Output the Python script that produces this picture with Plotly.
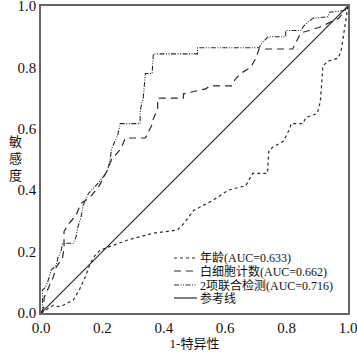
import plotly.graph_objects as go

# ---- data ----
age_fpr = [0, 0.04, 0.062, 0.105, 0.127, 0.144, 0.16, 0.176, 0.193, 0.28, 0.366, 0.444, 0.464, 0.497,
           0.56, 0.61, 0.667, 0.69, 0.738, 0.742, 0.755, 0.79, 0.81, 0.815, 0.853, 0.863, 0.9, 0.91,
           0.915, 0.918, 0.935, 0.967, 0.977, 0.99, 1.0]
age_tpr = [0, 0.025, 0.02, 0.042, 0.08, 0.117, 0.16, 0.188, 0.205, 0.237, 0.26, 0.27, 0.29, 0.334,
           0.367, 0.40, 0.415, 0.455, 0.455, 0.53, 0.54, 0.56, 0.60, 0.617, 0.617, 0.637, 0.65, 0.69,
           0.756, 0.805, 0.82, 0.83, 0.85, 0.93, 1.0]

wbc_fpr = [0, 0.01, 0.01, 0.026, 0.04, 0.05, 0.07, 0.075, 0.075, 0.09, 0.114, 0.13, 0.16, 0.19,
           0.215, 0.23, 0.26, 0.275, 0.34, 0.36, 0.365, 0.38, 0.38, 0.464, 0.464, 0.536, 0.55, 0.62,
           0.634, 0.65, 0.683, 0.70, 0.71, 0.82, 0.83, 0.846, 0.905, 0.935, 0.97, 1.0]
wbc_tpr = [0, 0.02, 0.05, 0.085, 0.117, 0.15, 0.18, 0.21, 0.266, 0.29, 0.318, 0.357, 0.377, 0.415,
           0.464, 0.50, 0.535, 0.57, 0.57, 0.61, 0.63, 0.665, 0.70, 0.70, 0.714, 0.73, 0.74, 0.74,
           0.763, 0.78, 0.80, 0.83, 0.86, 0.86, 0.88, 0.912, 0.93, 0.945, 0.96, 1.0]

comb_fpr = [0, 0.005, 0.005, 0.015, 0.026, 0.033, 0.05, 0.055, 0.065, 0.07, 0.105, 0.114, 0.12,
            0.13, 0.137, 0.15, 0.155, 0.183, 0.216, 0.225, 0.23, 0.25, 0.258, 0.323, 0.323, 0.333,
            0.34, 0.362, 0.366, 0.51, 0.51, 0.71, 0.72, 0.74, 0.797, 0.797, 0.846, 0.86, 0.886,
            0.935, 0.94, 0.985, 1.0]
comb_tpr = [0, 0, 0.075, 0.084, 0.114, 0.14, 0.155, 0.18, 0.2, 0.227, 0.227, 0.247, 0.28, 0.31,
            0.35, 0.377, 0.39, 0.42, 0.46, 0.50, 0.535, 0.58, 0.617, 0.617, 0.66, 0.70, 0.78, 0.78,
            0.844, 0.844, 0.864, 0.864, 0.88, 0.90, 0.90, 0.92, 0.92, 0.94, 0.96, 0.965, 0.98,
            0.985, 1.0]

ref_x = [0, 1]
ref_y = [0, 1]

legend_labels = ["年龄(AUC=0.633)", "白细胞计数(AUC=0.662)", "2项联合检测(AUC=0.716)", "参考线"]
ticks = [0.0, 0.2, 0.4, 0.6, 0.8, 1.0]

FONT = "Liberation Serif, 'Noto Sans CJK SC', serif"
INK = "#2a2a2a"
styles = [
    dict(color=INK, width=1.2, dash="3px,3px"),
    dict(color=INK, width=1.2, dash="7px,5px"),
    dict(color=INK, width=1.1, dash="5px,1.5px,1px,1.5px,1px,1.5px"),
    dict(color=INK, width=1.2, dash="solid"),
]

fig = go.Figure()
series = [(age_fpr, age_tpr), (wbc_fpr, wbc_tpr), (comb_fpr, comb_tpr), (ref_x, ref_y)]
for (xs, ys), st, name in zip(series, styles, legend_labels):
    fig.add_trace(go.Scatter(x=xs, y=ys, mode="lines", line=st, name=name,
                             showlegend=False, hoverinfo="skip", cliponaxis=False))

# legend drawn compactly inside the plot (paper coordinates)
L, T, B = 41, 6, 313
W, H = 307, 307
row_px = [258, 271, 285, 298]
for i, (name, st) in enumerate(zip(legend_labels, styles)):
    yp = (B - row_px[i]) / H
    fig.add_shape(type="line", xref="paper", yref="paper",
                  x0=(174 - L) / W, x1=(197 - L) / W, y0=yp, y1=yp, line=st)
    fig.add_annotation(xref="paper", yref="paper", x=(198 - L) / W, y=yp,
                       text=name, showarrow=False, xanchor="left", yanchor="middle",
                       font=dict(family=FONT, size=12, color="#111"))

fig.add_annotation(xref="paper", yref="paper", x=(15 - L) / W, y=(B - 158) / H,
                   text="敏<br>感<br>度", showarrow=False, xanchor="center", yanchor="middle",
                   font=dict(family=FONT, size=13, color="#111"))

fig.update_xaxes(range=[0, 1], tickvals=ticks, tickformat=".1f", showgrid=False, zeroline=False,
                 showline=True, mirror=True, linecolor="#666", linewidth=1.5, ticks="",
                 automargin=False, ticklabeloverflow="allow",
                 tickfont=dict(family=FONT, size=15, color="#111"),
                 title=dict(text="1-特异性", font=dict(family=FONT, size=13, color="#111"), standoff=3))
fig.update_yaxes(range=[0, 1], tickvals=ticks, tickformat=".1f", showgrid=False, zeroline=False,
                 showline=True, mirror=True, linecolor="#666", linewidth=1.5, ticks="",
                 automargin=False, ticklabeloverflow="allow",
                 tickfont=dict(family=FONT, size=15, color="#111"))

fig.update_layout(width=357, height=353, margin=dict(l=41, r=9, t=6, b=40),
                  plot_bgcolor="white", paper_bgcolor="white", showlegend=False)

fig.write_html("out.html", config={"displayModeBar": False},
               post_script="document.body.style.margin='0';")
